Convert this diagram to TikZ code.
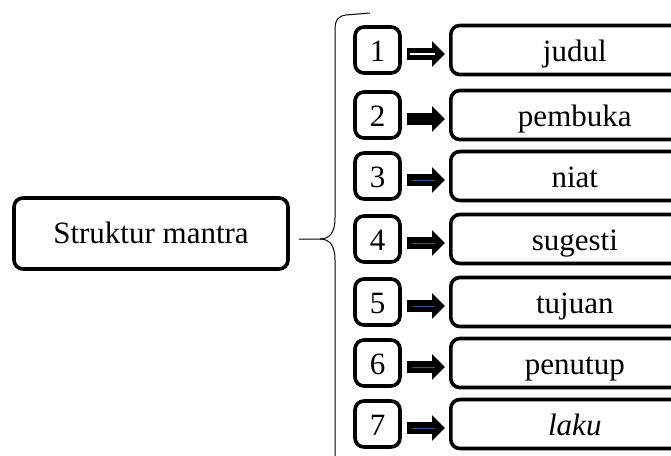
\documentclass[tikz,border=0pt]{standalone}
\usepackage{fontspec}
\setmainfont{Liberation Serif}
\usetikzlibrary{arrows.meta,calc}
\definecolor{arrowblue}{RGB}{47,85,151}
\newcommand{\tbtext}[1]{\makebox[222pt]{#1}\hspace{26pt}}
\begin{document}
\begin{tikzpicture}[x=1pt,y=-1pt,
  box/.style={draw=black,line width=3.6pt,rounded corners=9pt,inner sep=0pt,font=\fontsize{31}{36}\selectfont,text height=22pt,text depth=0pt},
  numbox/.style={box,minimum width=45pt,minimum height=46pt},
  txtbox/.style={box,minimum width=248pt,minimum height=49pt,anchor=west},
  blockarrow/.style={line width=12pt,-{Triangle[length=13pt,width=25pt]},shorten <=5pt,shorten >=4pt},
  braceline/.style={line width=1pt,draw=black}]
\useasboundingbox (0,0) rectangle (671,455);
\clip (0,0) rectangle (671,455);
% left box
\node[box,text height=19pt,minimum width=274pt,minimum height=71pt] (main) at (151,233.5) {Struktur mantra};
% brace
\coordinate (tip) at (299,239);
\draw[braceline] (370,13) -- (346,15) .. controls (338,16) and (335,20) .. (335,30)
  -- (335,218) .. controls (335,232) and (330,239) .. (320,239) -- (tip);
\draw[braceline] (320,239) .. controls (330,239) and (335,246) .. (335,260) -- (335,460);
% rows
\foreach \i/\y/\t in {1/50/judul,2/115/pembuka,3/176/niat,4/239/sugesti,5/302/tujuan,6/363/penutup,7/424/\textit{laku}}{
  \node[numbox] (n\i) at (377.5,\y) {\i};
  \node[txtbox] (t\i) at (449,\y) {\tbtext{\t}};
}
\foreach \i in {1,...,7}{
  \draw[blockarrow] ($(n\i.east)+(0,4)$) -- ($(t\i.west)+(0,4)$);
}
% inner lines of the arrows
\draw[white,line width=2.5pt,shorten <=8pt,shorten >=14pt] ($(n1.east)+(0,4)$) -- ($(t1.west)+(0,4)$);
\foreach \i in {3,...,7}{
  \draw[arrowblue,line width=0.8pt,shorten <=10pt,shorten >=14pt] ($(n\i.east)+(0,4)$) -- ($(t\i.west)+(0,4)$);
}
\end{tikzpicture}
\end{document}
